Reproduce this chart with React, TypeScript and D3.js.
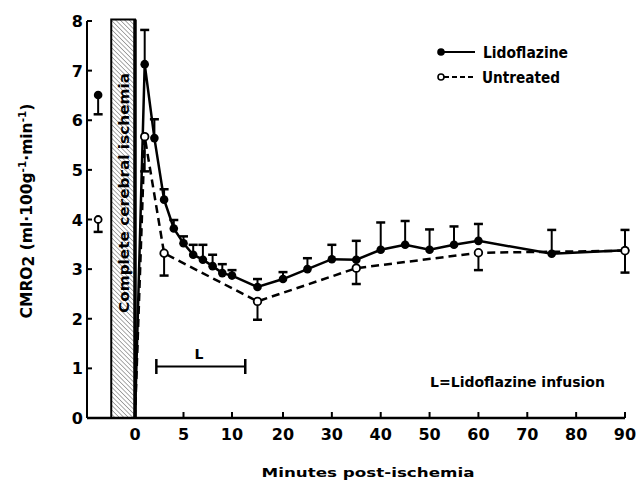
import React from "react";
import * as d3 from "d3";

// ---- data ----
const lidoTimes = [1, 2, 3, 4, 5, 6, 7, 8, 9, 10, 15, 20, 25, 30, 35, 40, 45, 50, 55, 60, 75, 90];
const lidoValues = [7.13, 5.64, 4.4, 3.82, 3.52, 3.29, 3.19, 3.06, 2.92, 2.87, 2.64, 2.8, 3.0, 3.2, 3.19, 3.39, 3.49, 3.39, 3.49, 3.57, 3.31, 3.38];
const lidoErrTop = [7.82, 6.02, 4.61, 3.99, 3.66, 3.49, 3.49, 3.29, 3.1, 2.98, 2.8, 2.94, 3.22, 3.49, 3.57, 3.94, 3.97, 3.8, 3.86, 3.91, 3.79, 3.79];

const untrTimes = [1, 3, 15, 35, 60, 90];
const untrValues = [5.67, 3.32, 2.35, 3.02, 3.33, 3.37];
const untrErrBottom = [4.97, 2.87, 1.98, 2.7, 2.98, 2.93];

// pre-ischemia control values
const controlTime = -3.8;
const controlLido = 6.51;
const controlLidoErrBottom = 6.12;
const controlUntr = 4.0;
const controlUntrErrBottom = 3.75;

const ischemiaStart = -2.45;
const ischemiaEnd = 0;
const infusionStart = 2.2;
const infusionEnd = 12.6;

const xTicks = [0, 5, 10, 20, 30, 40, 50, 60, 70, 80, 90];
const yTicks = [0, 1, 2, 3, 4, 5, 6, 7, 8];

export default function App() {
  const W = 638, H = 483;
  const x = d3.scaleLinear().domain([-4, 0, 10, 20, 90]).range([96.2, 135, 232, 283, 625]);
  const y = d3.scaleLinear().domain([0, 8]).range([418, 21]);
  const axisLeft = 87;
  const fontNum = "'DejaVu Sans', sans-serif";

  const lidoPts: [number, number][] = [[0, 0], ...lidoTimes.map((t, i) => [t, lidoValues[i]] as [number, number])];
  const untrPts: [number, number][] = [[0, 0], ...untrTimes.map((t, i) => [t, untrValues[i]] as [number, number])];
  const line = d3.line<[number, number]>().x(d => x(d[0])).y(d => y(d[1]));

  const capW = 4.5;
  const ischX0 = x(ischemiaStart);
  const ischX1 = x(ischemiaEnd);

  return (
    <svg width={W} height={H} style={{ position: "absolute", left: 0, top: 0, background: "#fff" }}>
      <defs>
        <pattern id="hatch" width="3.2" height="3.2" patternUnits="userSpaceOnUse" patternTransform="rotate(-45)">
          <line x1="0" y1="0" x2="0" y2="3.2" stroke="#555" strokeWidth="1" />
        </pattern>
      </defs>
      <rect x={0} y={0} width={W} height={H} fill="#fff" />

      {/* ischemia box */}
      <rect x={ischX0} y={y(8) - 1.5} width={ischX1 - ischX0} height={y(0) - y(8) + 1.5} fill="url(#hatch)" stroke="#000" strokeWidth={2} />
      <line x1={ischX1} x2={ischX1} y1={y(8) - 1.5} y2={y(0)} stroke="#000" strokeWidth={3.5} />
      <text
        transform={`translate(129, ${193}) rotate(-90)`}
        textAnchor="middle"
        fontFamily={fontNum}
        fontWeight="bold"
        fontSize={14}
        textLength={240}
        lengthAdjust="spacingAndGlyphs"
        fill="#000"
      >
        Complete cerebral ischemia
      </text>

      {/* axes */}
      <line x1={axisLeft} x2={axisLeft} y1={y(8)} y2={y(0)} stroke="#000" strokeWidth={2} />
      <line x1={axisLeft} x2={x(90)} y1={y(0)} y2={y(0)} stroke="#000" strokeWidth={2.5} />
      {yTicks.map(v => (
        <g key={"yt" + v}>
          <line x1={axisLeft} x2={axisLeft + 5} y1={y(v)} y2={y(v)} stroke="#000" strokeWidth={2} />
          <text x={83} y={y(v) + 6} textAnchor="end" fontFamily={fontNum} fontWeight="bold" fontSize={16}>{v}</text>
        </g>
      ))}
      {xTicks.map(v => (
        <g key={"xt" + v}>
          <line x1={x(v)} x2={x(v)} y1={y(0)} y2={y(0) - 6} stroke="#000" strokeWidth={2} />
          <text x={x(v)} y={440} textAnchor="middle" fontFamily={fontNum} fontWeight="bold" fontSize={16}>{v}</text>
        </g>
      ))}

      {/* axis titles */}
      <text x={368} y={477} textAnchor="middle" fontFamily={fontNum} fontWeight="bold" fontSize={13} textLength={213} lengthAdjust="spacingAndGlyphs">
        Minutes post-ischemia
      </text>
      <text transform={`translate(32, 211) rotate(-90)`} textAnchor="middle" fontFamily={fontNum} fontWeight="bold" fontSize={15.5}>
        <tspan>CMRO</tspan>
        <tspan dy={2}>2</tspan>
        <tspan dy={-2}> (ml·100g</tspan>
        <tspan dy={-6} fontSize={10.5}>-1</tspan>
        <tspan dy={6}>·min</tspan>
        <tspan dy={-6} fontSize={10.5}>-1</tspan>
        <tspan dy={6}>)</tspan>
      </text>

      {/* lines */}
      <path d={line(untrPts) || ""} fill="none" stroke="#000" strokeWidth={2.5} strokeDasharray="8,5" />
      <path d={line(lidoPts) || ""} fill="none" stroke="#000" strokeWidth={2.5} />

      {/* error bars lidoflazine (upward) */}
      {lidoTimes.map((t, i) => (
        <g key={"le" + t}>
          <line x1={x(t)} x2={x(t)} y1={y(lidoValues[i])} y2={y(lidoErrTop[i])} stroke="#000" strokeWidth={2} />
          <line x1={x(t) - capW} x2={x(t) + capW} y1={y(lidoErrTop[i])} y2={y(lidoErrTop[i])} stroke="#000" strokeWidth={2.5} />
        </g>
      ))}
      {/* error bars untreated (downward) */}
      {untrTimes.map((t, i) => (
        <g key={"ue" + t}>
          <line x1={x(t)} x2={x(t)} y1={y(untrValues[i])} y2={y(untrErrBottom[i])} stroke="#000" strokeWidth={2} />
          <line x1={x(t) - capW} x2={x(t) + capW} y1={y(untrErrBottom[i])} y2={y(untrErrBottom[i])} stroke="#000" strokeWidth={2.5} />
        </g>
      ))}

      {/* markers */}
      {lidoTimes.map((t, i) => (
        <circle key={"lm" + t} cx={x(t)} cy={y(lidoValues[i])} r={4.3} fill="#000" />
      ))}
      {untrTimes.map((t, i) => (
        <circle key={"um" + t} cx={x(t)} cy={y(untrValues[i])} r={3.8} fill="#fff" stroke="#000" strokeWidth={1.8} />
      ))}

      {/* control values */}
      <line x1={x(controlTime)} x2={x(controlTime)} y1={y(controlLido)} y2={y(controlLidoErrBottom)} stroke="#000" strokeWidth={2} />
      <line x1={x(controlTime) - capW} x2={x(controlTime) + capW} y1={y(controlLidoErrBottom)} y2={y(controlLidoErrBottom)} stroke="#000" strokeWidth={2.5} />
      <circle cx={x(controlTime)} cy={y(controlLido)} r={4.3} fill="#000" />
      <line x1={x(controlTime)} x2={x(controlTime)} y1={y(controlUntr)} y2={y(controlUntrErrBottom)} stroke="#000" strokeWidth={2} />
      <line x1={x(controlTime) - capW} x2={x(controlTime) + capW} y1={y(controlUntrErrBottom)} y2={y(controlUntrErrBottom)} stroke="#000" strokeWidth={2.5} />
      <circle cx={x(controlTime)} cy={y(controlUntr)} r={3.5} fill="#fff" stroke="#000" strokeWidth={1.8} />

      {/* infusion bar */}
      <line x1={x(infusionStart)} x2={x(infusionEnd)} y1={366.5} y2={366.5} stroke="#000" strokeWidth={2} />
      <line x1={x(infusionStart)} x2={x(infusionStart)} y1={359} y2={374} stroke="#000" strokeWidth={2.5} />
      <line x1={x(infusionEnd)} x2={x(infusionEnd)} y1={359} y2={374} stroke="#000" strokeWidth={2.5} />
      <text x={199} y={359} textAnchor="middle" fontFamily={fontNum} fontWeight="bold" fontSize={14}>L</text>
      <text x={430} y={387} fontFamily={fontNum} fontWeight="bold" fontSize={14} textLength={175} lengthAdjust="spacingAndGlyphs">L=Lidoflazine infusion</text>

      {/* legend */}
      <line x1={441} x2={475} y1={52} y2={52} stroke="#000" strokeWidth={2} />
      <circle cx={441} cy={52} r={3.8} fill="#000" />
      <text x={483} y={58} fontFamily={fontNum} fontWeight="bold" fontSize={15} textLength={85} lengthAdjust="spacingAndGlyphs">Lidoflazine</text>
      <line x1={444} x2={475} y1={77} y2={77} stroke="#000" strokeWidth={2} strokeDasharray="5,3" />
      <circle cx={441} cy={77} r={3} fill="#fff" stroke="#000" strokeWidth={1.6} />
      <text x={482} y={83} fontFamily={fontNum} fontWeight="bold" fontSize={15} textLength={78} lengthAdjust="spacingAndGlyphs">Untreated</text>
    </svg>
  );
}
